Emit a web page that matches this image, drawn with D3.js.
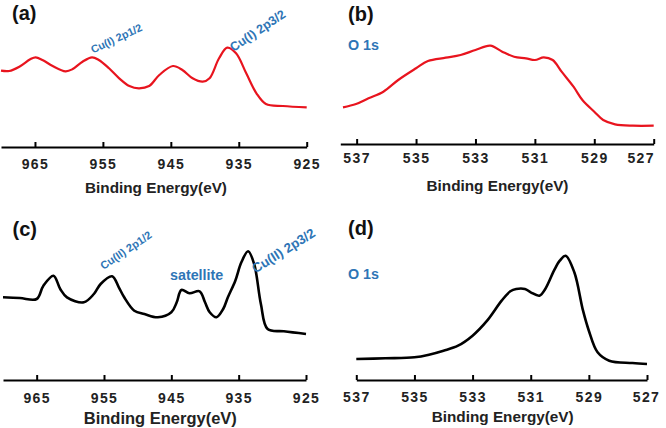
<!DOCTYPE html>
<html>
<head>
<meta charset="utf-8">
<script src="https://cdn.jsdelivr.net/npm/d3@7"></script>
<style>
  html, body { margin: 0; padding: 0; background: #fff; }
  svg { display: block; }
  text { font-family: "Liberation Sans", Arial, sans-serif; font-weight: bold; }
</style>
</head>
<body>
<svg id="chart" width="666" height="428"></svg>
<script>
// ---- Data (binding energy in eV, intensity in arbitrary units) ----
const cuTicks = [965, 955, 945, 935, 925];
const oTicks = [537, 535, 533, 531, 529, 527];

const energyA = [970, 968.8, 967.3, 965.7, 964.9, 963.9, 962.4, 960.5, 959.5, 958, 956.6, 955.6, 954.1, 952.6, 951.1, 949.7, 948.2, 946.7, 944.7, 943.3, 941.8, 940.3, 939.3, 937.9, 936.7, 935.4, 933.9, 932.4, 931, 928.5, 925];
const intensityA = [77.3, 77, 81.3, 88.7, 90.7, 88, 82, 76.7, 78.7, 86.3, 90.7, 88, 79.7, 69.7, 62, 59.7, 62, 73, 82, 78, 69.7, 66.3, 69.7, 89.7, 100.3, 94.7, 74.7, 54.7, 44, 42, 40.7];

const energyB = [537.46, 537.02, 536.6, 536.1, 535.6, 535.0, 534.6, 534.0, 533.5, 533.0, 532.5, 532.1, 531.7, 531.3, 531.0, 530.7, 530.4, 530.1, 529.7, 529.4, 529.0, 528.7, 528.3, 527.7, 527.0];
const intensityB = [39.7, 43, 48.7, 55.3, 67, 78.7, 86, 89.3, 92, 97, 101.3, 95.3, 90.3, 88.7, 87, 89.7, 87, 75.3, 60.3, 47, 35.3, 27, 22.7, 21.3, 21.3];

const energyC = [970, 967.5, 965, 964, 962.5, 961.5, 960.5, 958, 956.5, 955.5, 953.8, 952.8, 952, 950.5, 949, 947, 945, 944.2, 943.5, 942.3, 940.8, 940, 939.3, 938.3, 937.3, 936.6, 935.5, 934.6, 933.6, 932.7, 931.7, 930.7, 928.3, 925];
const intensityC = [82.7, 82, 81, 94.3, 104.3, 91, 82.7, 77.7, 86, 96, 103.7, 92.7, 82.7, 69.3, 66, 62.7, 67.7, 77.7, 90, 86.7, 88.7, 77.7, 67.7, 62.7, 71, 82.7, 99.3, 117.7, 128.7, 116, 76, 51, 48.7, 46];

const energyD = [537, 536, 535, 534.5, 534, 533.5, 533, 532.5, 532, 531.7, 531.5, 531.2, 531, 530.7, 530.5, 530.2, 530.0, 529.8, 529.5, 529.2, 529, 528.7, 528.3, 527.5, 527];
const intensityD = [21, 21.7, 22.7, 25.3, 29.3, 34.3, 44.3, 59.3, 79.3, 88.7, 91, 91, 87.7, 84.3, 91, 109.3, 119.3, 124.3, 107.7, 69.3, 49.3, 27.7, 19.3, 17, 16];

const panelLabels = ["(a)", "(b)", "(c)", "(d)"];
const axisTitle = "Binding Energy(eV)";

// ---- Layout ----
const svg = d3.select("#chart");
const BLUE = "#2e75b6";

const panels = [
  { id: "a", energy: energyA, intensity: intensityA, ticks: cuTicks, xDomain: [970, 925], xRange: [1, 306.7], base: 148, axisY: 147, color: "#e8141e", width: 2.2,
    label: { x: 12, y: 20 }, title: { x: 156, y: 193, size: 15.3 }, tickPad: 12, lastShift: 0 },
  { id: "b", energy: energyB, intensity: intensityB, ticks: oTicks, xDomain: [537.55, 527], xRange: [340.3, 653.7], base: 147, axisY: 144, color: "#e8141e", width: 2.2,
    label: { x: 348, y: 21 }, title: { x: 497.5, y: 191, size: 15.3 }, tickPad: 9, lastShift: -13 },
  { id: "c", energy: energyC, intensity: intensityC, ticks: cuTicks, xDomain: [970, 925], xRange: [3, 306], base: 380, axisY: 380, color: "#000", width: 2.6,
    label: { x: 12.5, y: 236 }, title: { x: 160.3, y: 424, size: 16.5 }, tickPad: 13, lastShift: 0 },
  { id: "d", energy: energyD, intensity: intensityD, ticks: oTicks, xDomain: [537, 527], xRange: [356.3, 647], base: 380, axisY: 380, color: "#000", width: 2.6,
    label: { x: 348, y: 235 }, title: { x: 502.7, y: 421.5, size: 15.3 }, tickPad: 12, lastShift: -1 }
];

panels.forEach((p, i) => {
  const x = d3.scaleLinear().domain(p.xDomain).range(p.xRange);
  const y = d3.scaleLinear().domain([0, 100]).range([p.base, p.base - 100]);
  const g = svg.append("g");

  // axis
  const axis = d3.axisBottom(x).tickValues(p.ticks).tickFormat(d3.format("d"))
    .tickSizeInner(-5).tickSizeOuter(0).tickPadding(p.tickPad);
  const ag = g.append("g").attr("transform", `translate(0,${p.axisY})`).call(axis);
  ag.select(".domain").attr("stroke", "#000").attr("stroke-width", 2.2);
  ag.selectAll(".tick line").attr("stroke", "#000").attr("stroke-width", 2);
  ag.selectAll(".tick text").attr("fill", "#222").attr("font-size", 14)
    .attr("font-family", "Liberation Sans, Arial, sans-serif").attr("font-weight", "bold")
    .attr("letter-spacing", 1.4);
  // keep the last label inside the page, as in the reference
  ag.selectAll(".tick text").filter(d => d === p.ticks[p.ticks.length - 1])
    .attr("dx", p.lastShift);

  // curve
  const pts = p.energy.map((e, k) => [e, p.intensity[k]]);
  const line = d3.line().x(d => x(d[0])).y(d => y(d[1])).curve(d3.curveCatmullRom.alpha(0.5));
  g.append("path").datum(pts).attr("d", line)
    .attr("fill", "none").attr("stroke", p.color).attr("stroke-width", p.width)
    .attr("stroke-linejoin", "round");

  // panel label
  g.append("text").attr("x", p.label.x).attr("y", p.label.y)
    .attr("font-size", 20).attr("fill", "#111").text(panelLabels[i]);

  // axis title
  g.append("text").attr("x", p.title.x).attr("y", p.title.y).attr("text-anchor", "middle")
    .attr("font-size", p.title.size).attr("fill", "#222").text(axisTitle);
});

// annotations
const annotations = [
  { text: "Cu(I) 2p1/2", x: 93, y: 53.5, angle: -25, size: 10.8 },
  { text: "Cu(I) 2p3/2", x: 233.5, y: 52, angle: -34, size: 12.5 },
  { text: "Cu(II) 2p1/2", x: 103.5, y: 270, angle: -34, size: 11 },
  { text: "Cu(II) 2p3/2", x: 255.5, y: 273.5, angle: -32, size: 13.3 },
  { text: "satellite", x: 170, y: 280, angle: 0, size: 14.3 },
  { text: "O 1s", x: 348, y: 49.5, angle: 0, size: 14.3 },
  { text: "O 1s", x: 348, y: 279, angle: 0, size: 14.3 }
];
svg.append("g").selectAll("text").data(annotations).join("text")
  .attr("transform", d => `translate(${d.x},${d.y}) rotate(${d.angle})`)
  .attr("font-size", d => d.size).attr("fill", BLUE).text(d => d.text);
</script>
</body>
</html>
